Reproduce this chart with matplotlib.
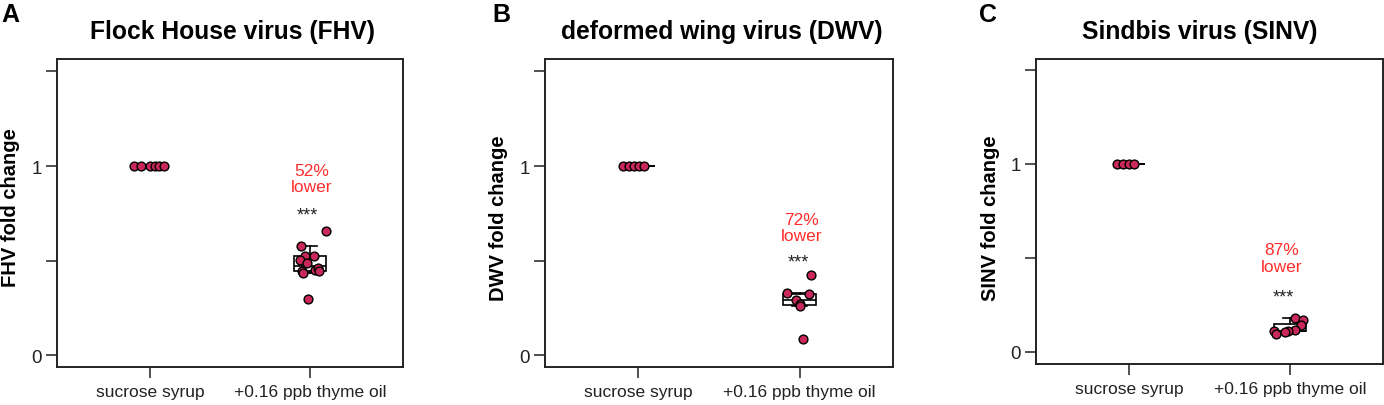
import matplotlib
matplotlib.use("Agg")
import matplotlib.pyplot as plt
from matplotlib.ticker import FixedLocator, FixedFormatter

plt.rcParams['font.family'] = ['Liberation Sans', 'DejaVu Sans']

# ---- data ----
categories = ["sucrose syrup", "+0.16 ppb thyme oil"]
titles = ["Flock House virus (FHV)", "deformed wing virus (DWV)", "Sindbis virus (SINV)"]
ylabels = ["FHV fold change", "DWV fold change", "SINV fold change"]
panel_letters = ["A", "B", "C"]
reduction_labels = ["52%\nlower", "72%\nlower", "87%\nlower"]
signif = ["***", "***", "***"]

fhv_sucrose = [1.0, 1.0, 1.0, 1.0, 1.0, 1.0]
fhv_thyme = [0.654, 0.575, 0.522, 0.525, 0.503, 0.485, 0.446, 0.434, 0.451, 0.460, 0.446, 0.296]
dwv_sucrose = [1.0, 1.0, 1.0, 1.0, 1.0]
dwv_thyme = [0.426, 0.327, 0.322, 0.292, 0.270, 0.260, 0.087]
sinv_sucrose = [1.0, 1.0, 1.0, 1.0]
sinv_thyme = [0.182, 0.168, 0.142, 0.115, 0.111, 0.111, 0.097, 0.105]

# horizontal jitter of the dots
fhv_sucrose_jit = [-0.10, -0.055, 0.0, 0.031, 0.056, 0.088]
fhv_thyme_jit = [0.10, -0.056, -0.031, 0.025, -0.0625, -0.017, -0.048, -0.042, 0.031, 0.052, 0.058, -0.014]
dwv_sucrose_jit = [-0.094, -0.056, -0.025, 0.006, 0.037]
dwv_thyme_jit = [0.073, -0.077, 0.056, -0.025, 0.004, 0.0, 0.021]
sinv_sucrose_jit = [-0.077, -0.036, -0.004, 0.027]
sinv_thyme_jit = [0.031, 0.081, 0.067, 0.031, -0.012, -0.10, -0.083, -0.027]

panels = [
    ([fhv_sucrose, fhv_thyme], [fhv_sucrose_jit, fhv_thyme_jit]),
    ([dwv_sucrose, dwv_thyme], [dwv_sucrose_jit, dwv_thyme_jit]),
    ([sinv_sucrose, sinv_thyme], [sinv_sucrose_jit, sinv_thyme_jit]),
]

# ---- layout (pixels) ----
W, H = 1384, 406
axes_px = [(57, 60, 403, 368), (545, 60, 893, 368), (1036, 60, 1383, 365)]
ylims = [(-0.063, 1.566), (-0.063, 1.566), (-0.064, 1.558)]
title_x = [0.506, 0.509, 0.473]
letter_px = [(10, 15), (501, 15), (988, 15)]
ylabel_px = [(10.5, 208), (498.5, 218.5), (991, 218.5)]
red_pos = [(1.01, 0.934), (1.01, 0.674), (0.95, 0.50)]
star_pos = [(0.98, 0.742), (0.995, 0.495), (0.96, 0.295)]

dot_color = '#C8285A'
red = '#FF2D2D'
spine_col = '#222222'

fig = plt.figure(figsize=(W / 100, H / 100), dpi=100)

for i, (groups, jits) in enumerate(panels):
    l, t, r, b = axes_px[i]
    ax = fig.add_axes([l / W, 1 - b / H, (r - l) / W, (b - t) / H])
    ax.set_xlim(-0.58, 1.58)
    ax.set_ylim(*ylims[i])

    ax.boxplot(groups, positions=[0, 1], widths=0.2, showfliers=False,
               patch_artist=True, capwidths=0.09, zorder=2,
               boxprops=dict(facecolor='white', edgecolor='black', linewidth=1.2),
               medianprops=dict(color='black', linewidth=1.2),
               whiskerprops=dict(color='black', linewidth=1.2),
               capprops=dict(color='black', linewidth=1.2))

    for k, (vals, jit) in enumerate(zip(groups, jits)):
        xs = [k + j for j in jit]
        ax.scatter(xs, vals, s=40, facecolor=dot_color, edgecolor='black',
                   linewidth=1.0, zorder=3)

    for sp in ax.spines.values():
        sp.set_color(spine_col)
        sp.set_linewidth(1.4)

    ax.xaxis.set_major_locator(FixedLocator([0, 1]))
    ax.xaxis.set_major_formatter(FixedFormatter(categories))
    ax.yaxis.set_major_locator(FixedLocator([0, 0.5, 1, 1.5]))
    ax.yaxis.set_major_formatter(FixedFormatter(['0', '', '1', '']))
    ax.tick_params(axis='both', direction='out', length=8, width=1.1,
                   color=spine_col, labelsize=12.5, labelcolor='#222222')
    ax.tick_params(axis='x', pad=4)
    ax.tick_params(axis='y', pad=3, labelsize=13.5)

    ax.text(title_x[i], 1 + (t - 32) / (b - t), titles[i], transform=ax.transAxes,
            ha='center', va='center', fontsize=17.7, fontweight='bold')

    rx, ry = red_pos[i]
    ax.text(rx, ry, reduction_labels[i], ha='center', va='center', color=red,
            fontsize=12.5, linespacing=1.1)
    sx, sy = star_pos[i]
    ax.text(sx, sy, signif[i], ha='center', va='center', color='#222222', fontsize=13)

    lx, ly = letter_px[i]
    fig.text(lx / W, 1 - ly / H, panel_letters[i], ha='center', va='center',
             fontsize=18, fontweight='bold')
    yx, yy = ylabel_px[i]
    fig.text(yx / W, 1 - yy / H, ylabels[i], ha='center', va='center',
             rotation=90, fontsize=14.5, fontweight='bold')

fig.savefig('out.png', dpi=100)
